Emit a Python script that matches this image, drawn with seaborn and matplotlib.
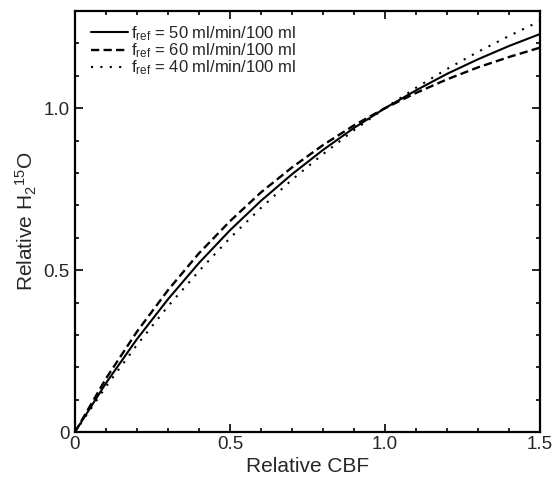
import numpy as np
import pandas as pd
import matplotlib
matplotlib.use("Agg")
import matplotlib.pyplot as plt
from matplotlib.ticker import MultipleLocator, FixedLocator, FixedFormatter
import seaborn as sns

# Relative CBF grid and relative H2(15)O signal for three reference flows
rel_cbf = [0.0, 0.1, 0.2, 0.3, 0.4, 0.5, 0.6, 0.7, 0.8, 0.9, 1.0, 1.1, 1.2, 1.3, 1.4, 1.5]
h2o_ref50 = [0.0, 0.151, 0.287, 0.410, 0.522, 0.623, 0.714, 0.796, 0.871, 0.939, 1.0, 1.055, 1.106, 1.151, 1.192, 1.229]
h2o_ref60 = [0.0, 0.165, 0.310, 0.438, 0.552, 0.651, 0.740, 0.817, 0.886, 0.947, 1.0, 1.047, 1.089, 1.126, 1.158, 1.187]
h2o_ref40 = [0.0, 0.140, 0.269, 0.388, 0.497, 0.599, 0.692, 0.779, 0.858, 0.932, 1.0, 1.063, 1.121, 1.174, 1.223, 1.269]

series_labels = [r"f$_{ref}$ = 50 ml/min/100 ml",
                 r"f$_{ref}$ = 60 ml/min/100 ml",
                 r"f$_{ref}$ = 40 ml/min/100 ml"]

x_ticks = [0.0, 0.5, 1.0, 1.5]
x_ticklabels = ["0", "0.5", "1.0", "1.5"]
y_ticks = [0.0, 0.5, 1.0]
y_ticklabels = ["0", "0.5", "1.0"]

sns.set_theme(style="ticks")
plt.rcParams["font.family"] = ["Liberation Sans", "DejaVu Sans"]
plt.rcParams["mathtext.default"] = "regular"

fig = plt.figure(figsize=(5.55, 4.79), dpi=100)
ax = fig.add_axes([0.135, 0.098, 0.838, 0.879])

df = pd.DataFrame({"x": rel_cbf * 3,
                   "y": h2o_ref50 + h2o_ref60 + h2o_ref40,
                   "series": [series_labels[0]] * len(rel_cbf)
                   + [series_labels[1]] * len(rel_cbf)
                   + [series_labels[2]] * len(rel_cbf)})

styles = {series_labels[0]: dict(linestyle="-", linewidth=1.5),
          series_labels[1]: dict(linestyle=(0, (3.5, 1.8)), linewidth=1.7),
          series_labels[2]: dict(linestyle=(0, (1, 3.5)), linewidth=1.5)}

for lab in series_labels:
    sub = df[df["series"] == lab]
    sns.lineplot(data=sub, x="x", y="y", ax=ax, color="black", label=lab,
                 estimator=None, sort=False, **styles[lab])

ax.set_xlim(0, 1.5)
ax.set_ylim(0, 1.3)
ax.xaxis.set_major_locator(FixedLocator(x_ticks))
ax.xaxis.set_major_formatter(FixedFormatter(x_ticklabels))
ax.yaxis.set_major_locator(FixedLocator(y_ticks))
ax.yaxis.set_major_formatter(FixedFormatter(y_ticklabels))
ax.xaxis.set_minor_locator(MultipleLocator(0.1))
ax.yaxis.set_minor_locator(MultipleLocator(0.1))
ax.tick_params(which="both", direction="in", top=True, right=True,
               color="black", labelsize=13.5, width=1.2)
ax.tick_params(axis="x", which="both", pad=2.5)
ax.tick_params(axis="y", which="both", pad=4)
ax.tick_params(which="major", length=6)
ax.tick_params(which="minor", length=3)
for sp in ax.spines.values():
    sp.set_linewidth(1.6)
    sp.set_color("black")

ax.set_xlabel("Relative CBF", fontsize=15, labelpad=3)
ax.set_ylabel(r"Relative H$_2$$^{15}$O", fontsize=15, labelpad=3)

leg = ax.legend(loc="upper left", frameon=False, fontsize=12,
                handlelength=2.2, handletextpad=0.2, labelspacing=-0.08,
                borderaxespad=0.0, bbox_to_anchor=(0.02, 0.985))

fig.savefig("out.png", dpi=100, facecolor="white")
